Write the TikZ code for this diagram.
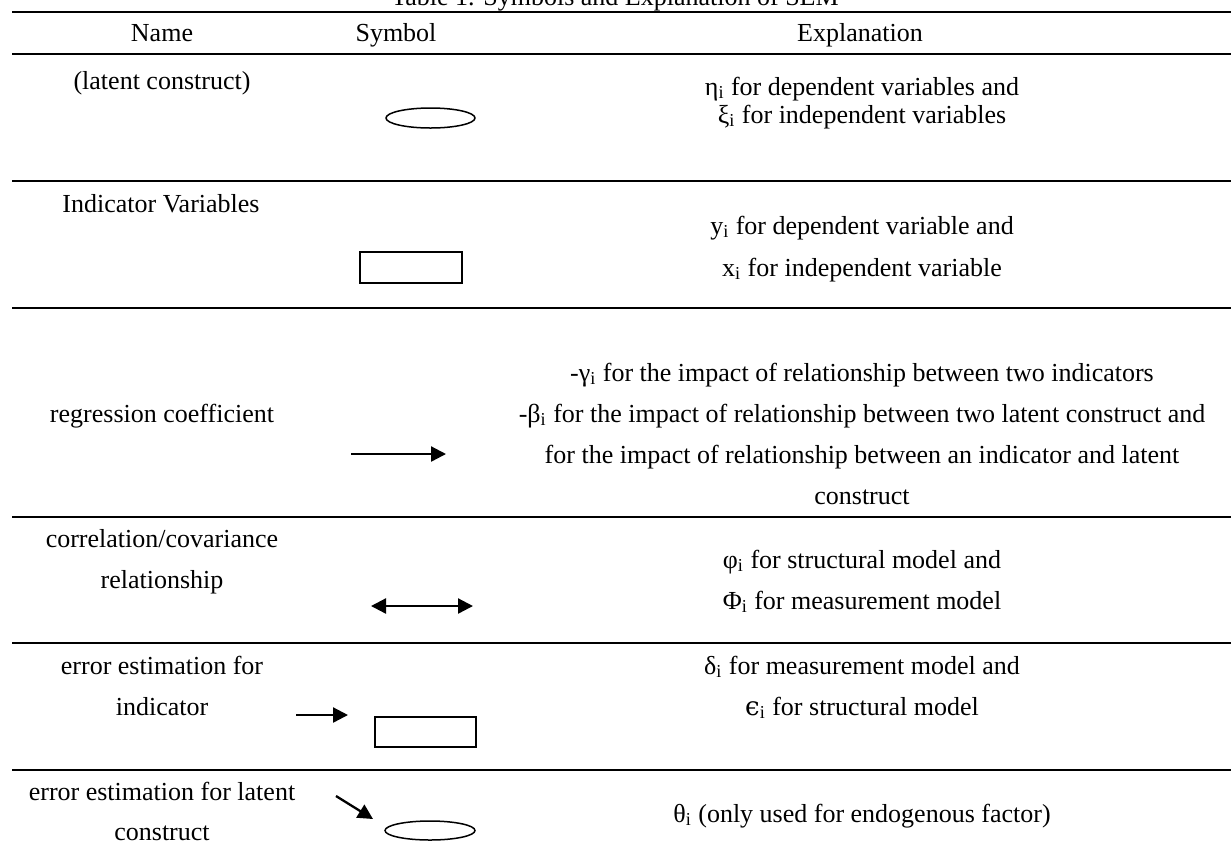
\documentclass[tikz,border=0pt]{standalone}
\usepackage{fontspec}
\setmainfont{Liberation Serif}
\newfontfamily\epsfont{DejaVu Serif}
\usetikzlibrary{arrows.meta,shapes.geometric}
\newcommand\sbi{\textsubscript{i}}

\begin{document}
\begin{tikzpicture}[x=0.5pt,y=-0.5pt,
  every node/.style={inner sep=0pt,font=\fontsize{13}{15}\selectfont},
  txt/.style={anchor=base},
  rule/.style={line width=1.3pt},
  symbox/.style={draw,line width=1pt,rectangle,anchor=north west},
  symoval/.style={draw,line width=0.75pt,ellipse},
  tip/.tip={Triangle[length=7.5pt,width=7.5pt]},
  arr/.style={line width=1.15pt,-tip},
  dblarr/.style={line width=1.15pt,tip-tip}]
\useasboundingbox (0,0) rectangle (1231,848);

% caption above the table (only its lower edge falls on the page)
\begin{scope}
  \clip (0,0) rectangle (1231,848);
  \node[txt] (caption) at (615,5) {Table 1. Symbols and Explanation of SEM};
\end{scope}

% horizontal rules
\foreach \yy in {12,54,181,308,517,643,770}
  \draw[rule] (12,\yy) -- (1231,\yy);

% header
\node[txt] (hname) at (162,41) {Name};
\node[txt] (hsym)  at (396,41) {Symbol};
\node[txt] (hexp)  at (860,41) {Explanation};

% latent construct
\node[txt] (n1) at (162,89) {(latent construct)};
\node[symoval,minimum width=44.5pt,minimum height=10pt] (oval1) at (430.5,118) {};
\node[txt] (e1a) at (862,95) {η\sbi{} for dependent variables and};
\node[txt] (e1b) at (862,123) {ξ\sbi{} for independent variables};

% indicator variables
\node[txt] (n2) at (161,212) {Indicator Variables};
\node[symbox,minimum width=51pt,minimum height=15.5pt] (box2) at (359,251) {};
\node[txt] (e2a) at (862,234) {y\sbi{} for dependent variable and};
\node[txt] (e2b) at (862,276) {x\sbi{} for independent variable};

% regression coefficient
\node[txt] (n3) at (162,422) {regression coefficient};
\coordinate (r3a) at (351,454);
\coordinate (r3b) at (446,454);
\draw[arr] (r3a) -- (r3b);
\node[txt] (e3a) at (862,381) {-γ\sbi{} for the impact of relationship between two indicators};
\node[txt] (e3b) at (862,422) {-β\sbi{} for the impact of relationship between two latent construct and};
\node[txt] (e3c) at (862,463) {for the impact of relationship between an indicator and latent};
\node[txt] (e3d) at (862,504) {construct};

% correlation / covariance
\node[txt] (n4a) at (162,547) {correlation/covariance};
\node[txt] (n4b) at (162,588) {relationship};
\coordinate (r4a) at (371,606);
\coordinate (r4b) at (473,606);
\draw[dblarr] (r4a) -- (r4b);
\node[txt] (e4a) at (862,568) {φ\sbi{} for structural model and};
\node[txt] (e4b) at (862,609) {Φ\sbi{} for measurement model};

% error estimation for indicator
\node[txt] (n5a) at (162,674) {error estimation for};
\node[txt] (n5b) at (162,715) {indicator};
\coordinate (r5a) at (296,715);
\coordinate (r5b) at (348,715);
\draw[arr] (r5a) -- (r5b);
\node[symbox,minimum width=50.5pt,minimum height=15pt] (box5) at (374,716) {};
\node[txt] (e5a) at (862,674) {δ\sbi{} for measurement model and};
\node[txt] (e5b) at (862,715) {{\epsfont ϵ}\sbi{} for structural model};

% error estimation for latent construct
\node[txt] (n6a) at (162,800) {error estimation for latent};
\node[txt] (n6b) at (162,840) {construct};
\coordinate (r6a) at (336,796);
\coordinate (r6b) at (373,819);
\draw[arr] (r6a) -- (r6b);
\node[symoval,minimum width=45pt,minimum height=9.5pt] (oval6) at (430,830.5) {};
\node[txt] (e6) at (862,822) {θ\sbi{} (only used for endogenous factor)};
\end{tikzpicture}
\end{document}
